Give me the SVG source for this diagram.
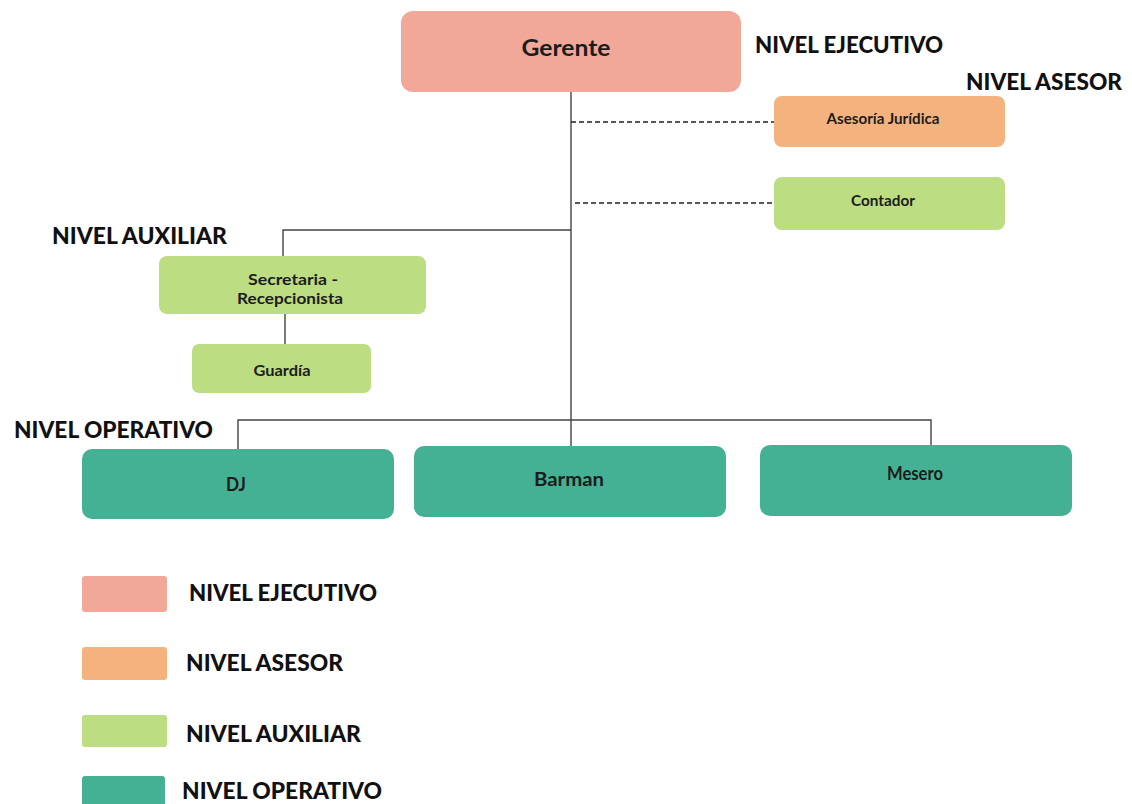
<svg xmlns="http://www.w3.org/2000/svg" width="1132" height="804" viewBox="0 0 1132 804">
  <style>
    .exe { fill: #F1A899; }
    .ase { fill: #F4B37E; }
    .aux { fill: #BCDD82; }
    .ope { fill: #45B194; }
    .node-text { font-family: Lato, "Noto Sans", sans-serif; font-weight: 700; fill: #1c1c1c; text-anchor: middle; dominant-baseline: central; }
    .level { font-family: Lato, "Noto Sans", sans-serif; font-weight: 900; font-size: 22px; fill: #111; }
    .solid { stroke: #444; stroke-width: 1.4; fill: none; }
    .dash { stroke: #222; stroke-width: 1.6; stroke-dasharray: 5 3; fill: none; }
  </style>
  <rect width="1132" height="804" fill="#ffffff"/>

  <!-- connectors -->
  <g id="connectors">
    <line class="solid" x1="571" y1="91" x2="571" y2="446"/>
    <line class="dash" x1="571" y1="122" x2="774" y2="122"/>
    <line class="dash" x1="575" y1="203" x2="774" y2="203"/>
    <polyline class="solid" points="571,230 283,230 283,256"/>
    <line class="solid" x1="285" y1="314" x2="285" y2="344"/>
    <polyline class="solid" points="238,449 238,420 931,420 931,447"/>
  </g>

  <!-- level captions -->
  <g id="level-captions">
    <text class="level" x="755" y="53" textLength="188" lengthAdjust="spacingAndGlyphs">NIVEL EJECUTIVO</text>
    <text class="level" x="966" y="90" textLength="156" lengthAdjust="spacingAndGlyphs">NIVEL ASESOR</text>
    <text class="level" x="52" y="244" textLength="175" lengthAdjust="spacingAndGlyphs">NIVEL AUXILIAR</text>
    <text class="level" x="14" y="438" textLength="199" lengthAdjust="spacingAndGlyphs">NIVEL OPERATIVO</text>
  </g>

  <g id="gerente">
    <rect class="exe" x="401" y="11" width="340" height="81" rx="12"/>
    <text class="node-text" x="566" y="47" font-size="22" textLength="89" lengthAdjust="spacingAndGlyphs">Gerente</text>
  </g>
  <g id="asesoria-juridica">
    <rect class="ase" x="774" y="96" width="231" height="51" rx="8"/>
    <text class="node-text" x="883" y="118" font-size="15" textLength="113" lengthAdjust="spacingAndGlyphs">Asesoría Jurídica</text>
  </g>
  <g id="contador">
    <rect class="aux" x="774" y="177" width="231" height="53" rx="8"/>
    <text class="node-text" x="883" y="200" font-size="15" textLength="64" lengthAdjust="spacingAndGlyphs">Contador</text>
  </g>
  <g id="secretaria">
    <rect class="aux" x="159" y="256" width="267" height="58" rx="8"/>
    <text class="node-text" x="293" y="278" font-size="16" textLength="90" lengthAdjust="spacingAndGlyphs">Secretaria -</text>
    <text class="node-text" x="290" y="297" font-size="16" textLength="106" lengthAdjust="spacingAndGlyphs">Recepcionista</text>
  </g>
  <g id="guardia">
    <rect class="aux" x="192" y="344" width="179" height="49" rx="7"/>
    <text class="node-text" x="282" y="369" font-size="16" textLength="57" lengthAdjust="spacingAndGlyphs">Guardía</text>
  </g>
  <g id="dj">
    <rect class="ope" x="82" y="449" width="312" height="70" rx="10"/>
    <text class="node-text" x="236" y="484" font-size="18" textLength="20" lengthAdjust="spacingAndGlyphs">DJ</text>
  </g>
  <g id="barman">
    <rect class="ope" x="414" y="446" width="312" height="71" rx="10"/>
    <text class="node-text" x="569" y="479" font-size="18" textLength="70" lengthAdjust="spacingAndGlyphs">Barman</text>
  </g>
  <g id="mesero">
    <rect class="ope" x="760" y="445" width="312" height="71" rx="10"/>
    <text class="node-text" x="915" y="473" font-size="18" textLength="56" lengthAdjust="spacingAndGlyphs">Mesero</text>
  </g>

  <!-- legend -->
  <g id="legend">
    <rect class="exe" x="82" y="576" width="85" height="36" rx="3"/>
    <text class="level" x="189" y="601" textLength="188" lengthAdjust="spacingAndGlyphs">NIVEL EJECUTIVO</text>
    <rect class="ase" x="82" y="647" width="85" height="33" rx="3"/>
    <text class="level" x="186" y="671" textLength="157" lengthAdjust="spacingAndGlyphs">NIVEL ASESOR</text>
    <rect class="aux" x="82" y="715" width="85" height="32" rx="3"/>
    <text class="level" x="186" y="742" textLength="175" lengthAdjust="spacingAndGlyphs">NIVEL AUXILIAR</text>
    <rect class="ope" x="82" y="776" width="83" height="30" rx="3"/>
    <text class="level" x="182" y="799" textLength="200" lengthAdjust="spacingAndGlyphs">NIVEL OPERATIVO</text>
  </g>
</svg>
